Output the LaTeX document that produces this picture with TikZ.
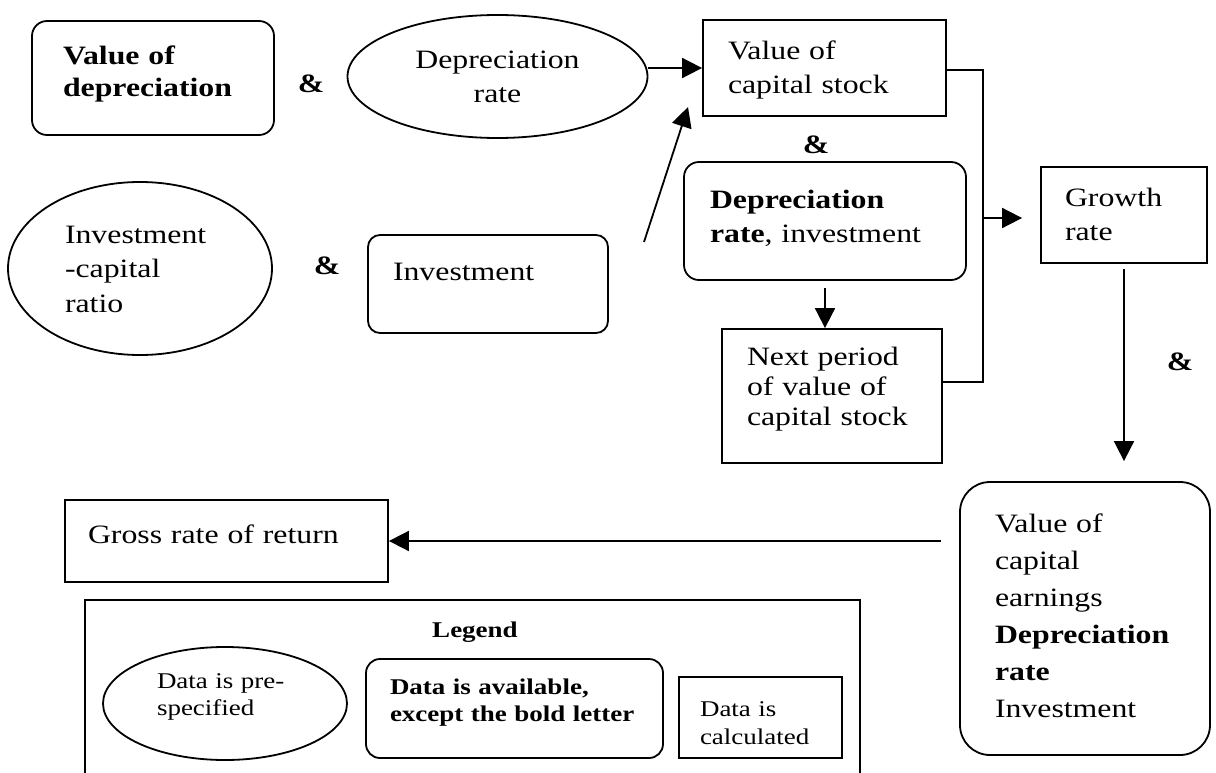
\documentclass[tikz,border=0pt]{standalone}
\usepackage{fontspec}
\setmainfont{Liberation Serif}[FakeStretch=1.2]
\usetikzlibrary{arrows.meta,shapes.geometric}
\newcommand\dgmain{\fontsize{26.5}{34}\selectfont}
\newcommand\dgleg{\fontsize{22.5}{27}\selectfont}
\begin{document}
\begin{tikzpicture}[x=1pt,y=-1pt,
  stroke/.style={line width=1.8pt},
  boxbase/.style={draw,stroke,inner sep=0pt,align=left,text height=0pt,font=\dgmain},
  sqbox/.style={boxbase,rectangle},
  rbox/.style={boxbase,rectangle,rounded corners=#1},
  rbox/.default=15pt,
  oval/.style={boxbase,ellipse},
  ampersand/.style={font=\bfseries\dgmain,inner sep=0pt},
  arr/.style={stroke,-{Triangle[length=20pt,width=20pt]}},
]
\useasboundingbox (0,0) rectangle (1216,773);

% upper row
\node[rbox, minimum width=242pt, minimum height=114pt, text width=180pt, text depth=26pt,
      font=\bfseries\fontsize{26.5}{32}\selectfont] (valdep) at (153,78) {Value of\\depreciation};
\node[ampersand] (amp1) at (311,84) {\&};
\node[oval, align=center, minimum width=300pt, minimum height=123pt, text width=200pt, text depth=16pt]
      (deprate) at (497.5,76.5) {Depreciation\\rate};
\node[sqbox, minimum width=243pt, minimum height=96pt, text width=193pt, text depth=16pt]
      (valcap) at (824.5,68) {Value of\\capital stock};
\node[ampersand] (amp2) at (816,145) {\&};
\node[rbox, minimum width=282pt, minimum height=118pt, text width=230pt, text depth=26pt]
      (depinv) at (825,221) {\textbf{Depreciation}\\\textbf{rate}, investment};
\node[sqbox, minimum width=220pt, minimum height=134pt, text width=170pt, text depth=62pt,
      font=\fontsize{26.5}{30}\selectfont] (nextp) at (832,396) {Next period\\of value of\\capital stock};
\node[sqbox, minimum width=166pt, minimum height=96pt, text width=118pt, text depth=16pt]
      (growth) at (1124,215) {Growth\\rate};
\node[ampersand] (amp3) at (1180,362) {\&};

% middle row
\node[oval, minimum width=264pt, minimum height=173pt, text width=150pt, text depth=51pt,
      font=\fontsize{26.5}{35}\selectfont] (invcap) at (140,268.5) {Investment\\-capital\\ratio};
\node[ampersand] (amp4) at (327,266) {\&};
\node[rbox=12pt, minimum width=240pt, minimum height=98pt, text width=190pt, text depth=8pt]
      (invest) at (488,284) {Investment};
\coordinate (ia) at (644,242);
\coordinate (ib) at (688,107);

% lower part
\node[rbox=30pt, minimum width=250pt, minimum height=273pt, text width=180pt, text depth=173pt,
      font=\fontsize{26.5}{37}\selectfont] (capearn) at (1085,618.5)
      {Value of\\capital\\earnings\\\textbf{Depreciation}\\\textbf{rate}\\Investment};
\node[sqbox, minimum width=323pt, minimum height=82pt, text width=277pt, text height=4pt, text depth=0pt]
      (gross) at (226.5,541) {Gross rate of return};

% connectors
\coordinate (bus) at (983,0);
\coordinate (jn) at (983,218);
\draw[arr] (deprate.east |- valcap.west) -- (valcap.west);
\draw[arr] (ia) -- (ib);
\draw[stroke] ([yshift=-2pt]valcap.east) -- ([yshift=-2pt]valcap.east -| bus)
      -- ([yshift=14pt]nextp.east -| bus) -- ([yshift=14pt]nextp.east);
\draw[arr, shorten >=18pt] (jn) -- (jn -| growth.west);
\draw[arr, shorten <=7pt] (depinv.south) -- (depinv.south |- nextp.north);
\draw[arr, shorten <=5pt, shorten >=20pt] (growth.south) -- (growth.south |- capearn.north);
\draw[arr, shorten <=18pt] (capearn.west |- gross.east) -- (gross.east);

% legend
\draw[stroke] (85,773) |- (860,600) -- (860,773);
\node[font=\bfseries\dgleg, anchor=base, inner sep=0pt] (legtitle) at (475,637) {Legend};
\node[oval, font=\dgleg, minimum width=244pt, minimum height=113pt, text width=136pt, text depth=31pt]
      (legpre) at (225,703.5) {Data is pre-\\specified};
\node[rbox=14pt, font=\bfseries\dgleg, minimum width=297pt, minimum height=99pt, text width=249pt, text depth=29pt]
      (legavail) at (514.5,708.5) {Data is available,\\except the bold letter};
\node[sqbox, font=\fontsize{22.5}{28}\selectfont, minimum width=163pt, minimum height=81pt, text width=121pt, text depth=3pt]
      (legcalc) at (760.5,717.5) {Data is\\calculated};
\end{tikzpicture}
\end{document}
